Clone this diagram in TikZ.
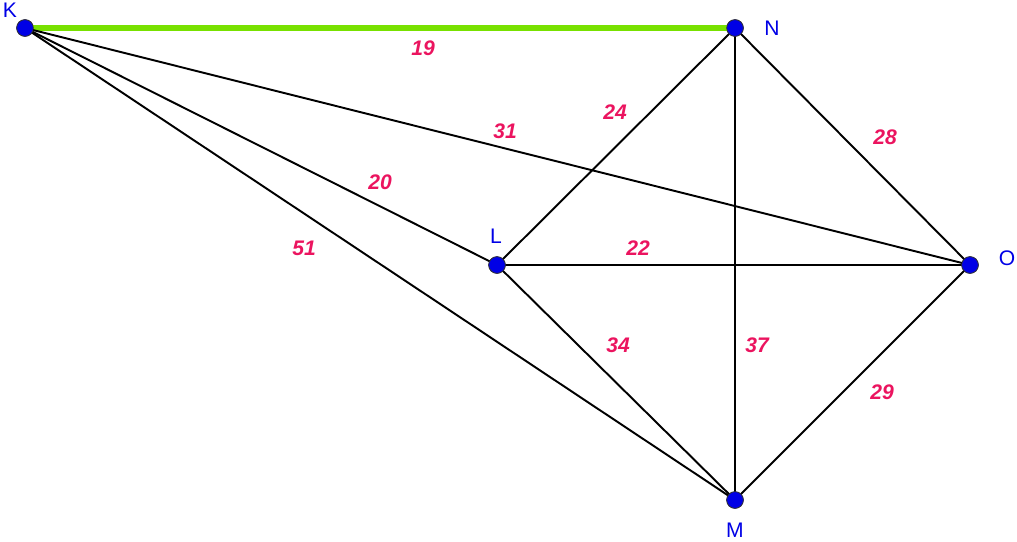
\documentclass[tikz,border=0pt]{standalone}
\usepackage{fontspec}
\setmainfont{Liberation Sans}
\usepackage{tikz}
\usetikzlibrary{positioning}
\definecolor{ptblue}{RGB}{0,0,230}
\definecolor{wtred}{RGB}{235,20,95}
\definecolor{lgreen}{RGB}{120,225,0}
\begin{document}
\begin{tikzpicture}[x=0.02cm,y=-0.02cm]
        \tikzstyle{pt}=[circle, fill=ptblue, draw=black!80, inner sep=0pt, minimum size=9.5pt]
        \tikzstyle{ptname}=[text=ptblue, font=\large]
        \tikzstyle{wt}=[text=wtred, font=\large\bfseries\itshape]
        \tikzstyle{edge}=[draw=black, line width=1.1pt]
        \useasboundingbox (0,0) rectangle (1017,541);

        \node   (K)    [pt] at (25,28) {};
        \node   (N)    [pt] at (735,28) {};
        \node   (L)    [pt] at (497,265) {};
        \node   (O)    [pt] at (970,265) {};
        \node   (M)    [pt] at (735,500) {};

        \draw[lgreen, line width=3.5pt] (K.center) -- (N.center);
        \draw[edge] (K.center) -- (L.center);
        \draw[edge] (K.center) -- (O.center);
        \draw[edge] (K.center) -- (M.center);
        \draw[edge] (N.center) -- (L.center);
        \draw[edge] (N.center) -- (O.center);
        \draw[edge] (N.center) -- (M.center);
        \draw[edge] (L.center) -- (O.center);
        \draw[edge] (L.center) -- (M.center);
        \draw[edge] (O.center) -- (M.center);

        % redraw points on top
        \foreach \p in {K,N,L,O,M}
            \node[pt] at (\p) {};

        \node[ptname] at (10,10) {K};
        \node[ptname] at (772,28) {N};
        \node[ptname] at (496,236) {L};
        \node[ptname] at (1007,258) {O};
        \node[ptname] at (735,530) {M};

        \node[wt] at (423,48) {19};
        \node[wt] at (615,112) {24};
        \node[wt] at (505,131) {31};
        \node[wt] at (885,137) {28};
        \node[wt] at (380,182) {20};
        \node[wt] at (638,248) {22};
        \node[wt] at (304,248) {51};
        \node[wt] at (618,345) {34};
        \node[wt] at (757,345) {37};
        \node[wt] at (882,392) {29};
    \end{tikzpicture}
\end{document}
